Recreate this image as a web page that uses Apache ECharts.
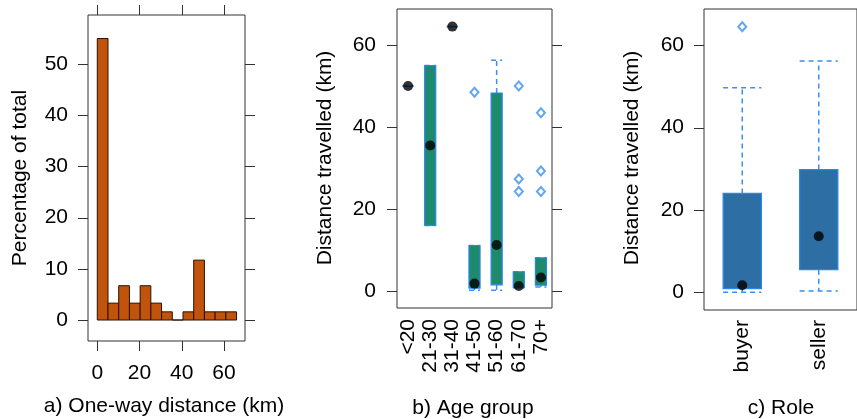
<!DOCTYPE html>
<html>
<head>
<meta charset="utf-8">
<script src="https://cdn.jsdelivr.net/npm/echarts@6/dist/echarts.min.js"></script>
<style>
  html, body { margin: 0; padding: 0; background: #fff; }
  #chart { width: 857px; height: 419px; }
</style>
</head>
<body>
<div id="chart"></div>
<script>
// a) histogram of one-way distance
const binEdges = [0, 5.08, 10.15, 15.23, 20.31, 25.38, 30.46, 35.54, 40.62, 45.69, 50.77, 55.85, 60.92, 66];
const histPercent = [55, 3.3, 6.7, 3.3, 6.7, 3.3, 1.6, 0, 1.6, 11.7, 1.6, 1.6, 1.6];
const histTicksX = [0, 20, 40, 60];
const histTicksY = [0, 10, 20, 30, 40, 50];

// b) distance by age group: [lower, q1, median, q3, upper]
const ageGroups = ['<20', '21-30', '31-40', '41-50', '51-60', '61-70', '70+'];
const ageLower = [50, 16, 64.5, 0.2, 0.2, 0.8, 1.0];
const ageQ1 = [50, 16, 64.5, 0.7, 1.5, 0.8, 1.4];
const ageMedian = [50, 35.5, 64.5, 1.8, 11.2, 1.2, 3.3];
const ageQ3 = [50, 55, 64.5, 11.1, 48.3, 4.7, 8.1];
const ageUpper = [50, 55, 64.5, 11.1, 56.3, 4.7, 8.1];
const ageOutliers = [[3, 48.5], [5, 50], [5, 27.3], [5, 24.3], [6, 43.5], [6, 29.3], [6, 24.3]];

// c) distance by role
const roles = ['buyer', 'seller'];
const roleLower = [0, 0.3];
const roleQ1 = [0.9, 5.5];
const roleMedian = [1.7, 13.6];
const roleQ3 = [24, 29.8];
const roleUpper = [49.7, 56.2];
const roleOutliers = [[0, 64.5]];

const distTicks = [0, 20, 40, 60];

const FONT = '"Liberation Sans", Arial, sans-serif';
const LABEL_FONT = '21px ' + FONT;
const WHISK = '#3a8ff0';
const TICK_LEN = 10;

const histData = histPercent.map((p, i) => [binEdges[i], binEdges[i + 1], p]);
const boxRows = (lo, q1, md, q3, hi) => lo.map((v, i) => [i, v, q1[i], md[i], q3[i], hi[i]]);

function renderHist(params, api) {
  const p0 = api.coord([api.value(0), api.value(2)]);
  const p1 = api.coord([api.value(1), 0]);
  return {
    type: 'rect',
    shape: { x: p0[0], y: p0[1], width: p1[0] - p0[0], height: p1[1] - p0[1] },
    style: { fill: '#c2530c', stroke: '#2a1200', lineWidth: 1 }
  };
}

function boxRenderer(fill) {
  return function (params, api) {
    const c = api.value(0);
    const lo = api.coord([c, api.value(1)]);
    const q1 = api.coord([c, api.value(2)]);
    const q3 = api.coord([c, api.value(4)]);
    const hi = api.coord([c, api.value(5)]);
    const w = api.size([1, 0])[0] * 0.5;
    const x = lo[0];
    const dash = { stroke: WHISK, lineWidth: 1.5, lineDash: [5, 4], fill: null };
    return {
      type: 'group',
      children: [
        { type: 'line', shape: { x1: x, y1: q1[1], x2: x, y2: lo[1] }, style: dash },
        { type: 'line', shape: { x1: x - w / 2, y1: lo[1], x2: x + w / 2, y2: lo[1] }, style: dash },
        { type: 'line', shape: { x1: x, y1: q3[1], x2: x, y2: hi[1] }, style: dash },
        { type: 'line', shape: { x1: x - w / 2, y1: hi[1], x2: x + w / 2, y2: hi[1] }, style: dash },
        {
          type: 'rect',
          shape: { x: x - w / 2, y: q3[1], width: w, height: q1[1] - q3[1] },
          style: { fill: fill, stroke: '#2a86ea', lineWidth: 1.2 }
        }
      ]
    };
  };
}

// panel frame, taken from the grid's coordinate system
function frameSeries(xi, yi) {
  return {
    type: 'custom', xAxisIndex: xi, yAxisIndex: yi, clip: false, silent: true, z: 90,
    data: [[0, 0]],
    renderItem: function (params) {
      const cs = params.coordSys;
      return { type: 'rect', shape: { x: cs.x, y: cs.y, width: cs.width, height: cs.height },
        style: { fill: null, stroke: '#333', lineWidth: 1 } };
    }
  };
}

// outward tick marks of one panel, placed through the axis scales;
// each item draws the mark on every requested side, on its own canvas layer
function tickSeries(xi, yi, horiz, values, sides) {
  return {
    type: 'custom', xAxisIndex: xi, yAxisIndex: yi, clip: false, silent: true,
    zlevel: 3, z: 100,
    data: values.map(v => horiz ? [v, 0] : [0, v]),
    renderItem: function (params, api) {
      const cs = params.coordSys;
      const p = api.coord([api.value(0), api.value(1)]);
      const px = Math.round(p[0]) + 0.5;
      const py = Math.round(p[1]) + 0.5;
      const style = { stroke: '#333', lineWidth: 1, fill: null };
      const children = sides.map(function (side) {
        let shape;
        if (side === 'left') shape = { x1: cs.x - TICK_LEN, y1: py, x2: cs.x, y2: py };
        else if (side === 'right') shape = { x1: cs.x + cs.width, y1: py, x2: cs.x + cs.width + TICK_LEN, y2: py };
        else if (side === 'bottom') shape = { x1: px, y1: cs.y + cs.height, x2: px, y2: cs.y + cs.height + TICK_LEN };
        else shape = { x1: px, y1: cs.y - TICK_LEN, x2: px, y2: cs.y };
        return { type: 'line', shape, style };
      });
      return { type: 'group', children };
    }
  };
}

// tick labels, also placed through the axis scale
function labelSeries(xi, yi, side, values, margin, names) {
  return {
    type: 'custom', xAxisIndex: xi, yAxisIndex: yi, clip: false, silent: true, z: 95,
    data: values.map((v, i) => side === 'left' ? [0, v] : [names ? i : v, 0]),
    renderItem: function (params, api) {
      const cs = params.coordSys;
      const p = api.coord([api.value(0), api.value(1)]);
      const text = names ? names[params.dataIndex] : String(values[params.dataIndex]);
      if (side === 'left') {
        return { type: 'text', x: cs.x - margin, y: p[1],
          style: { text, font: LABEL_FONT, fill: '#000', align: 'right', verticalAlign: 'middle' } };
      }
      if (names) {
        return { type: 'text', x: p[0], y: cs.y + cs.height + margin, rotation: Math.PI / 2,
          style: { text, font: LABEL_FONT, fill: '#000', align: 'right', verticalAlign: 'middle' } };
      }
      return { type: 'text', x: p[0], y: cs.y + cs.height + margin,
        style: { text, font: LABEL_FONT, fill: '#000', align: 'center', verticalAlign: 'top' } };
    }
  };
}

// axes only provide the scales; everything visible is drawn by the series
function valueAxis(gridIndex, min, max) {
  return { type: 'value', show: false, gridIndex, min, max, splitLine: { show: false } };
}
function categoryAxis(gridIndex, data) {
  return { type: 'category', show: false, gridIndex, data };
}

const chart = echarts.init(document.getElementById('chart'), null, { renderer: 'canvas' });

chart.setOption({
  animation: false,
  backgroundColor: '#fff',
  grid: [
    { left: 88, top: 15, width: 157, height: 326, show: false },
    { left: 397, top: 9, width: 155, height: 299, show: false },
    { left: 704, top: 9, width: 156, height: 301, show: false }
  ],
  xAxis: [
    valueAxis(0, -4.4, 70),
    categoryAxis(1, ageGroups),
    categoryAxis(2, roles)
  ],
  yAxis: [
    valueAxis(0, -4.1, 59.6),
    valueAxis(1, -4.15, 68.8),
    valueAxis(2, -4.3, 68.8)
  ],
  series: [
    {
      type: 'custom', xAxisIndex: 0, yAxisIndex: 0,
      renderItem: renderHist, data: histData,
      encode: { x: [0, 1], y: 2 }
    },
    frameSeries(0, 0),
    tickSeries(0, 0, false, histTicksY, ['right', 'left']),
    tickSeries(0, 0, true, histTicksX, ['top', 'bottom']),
    labelSeries(0, 0, 'left', histTicksY, 20),
    labelSeries(0, 0, 'bottom', histTicksX, 22),
    {
      type: 'custom', xAxisIndex: 1, yAxisIndex: 1,
      renderItem: boxRenderer('#1e8a6c'),
      data: boxRows(ageLower, ageQ1, ageMedian, ageQ3, ageUpper),
      encode: { x: 0, y: [1, 2, 3, 4, 5] }
    },
    {
      type: 'scatter', xAxisIndex: 1, yAxisIndex: 1, z: 5, clip: false,
      symbol: 'circle', symbolSize: 10, itemStyle: { color: '#000' },
      data: ageMedian.map((v, i) => [i, v])
    },
    {
      type: 'scatter', xAxisIndex: 1, yAxisIndex: 1, z: 5, clip: false,
      symbol: 'emptyDiamond', symbolSize: [8, 9],
      itemStyle: { color: WHISK, borderColor: WHISK, borderWidth: 1.3 },
      data: ageOutliers
    },
    frameSeries(1, 1),
    tickSeries(1, 1, false, distTicks, ['right', 'left']),
    labelSeries(1, 1, 'left', distTicks, 21),
    labelSeries(1, 1, 'bottom', ageGroups, 11, ageGroups),
    {
      type: 'custom', xAxisIndex: 2, yAxisIndex: 2,
      renderItem: boxRenderer('#2d6fa5'),
      data: boxRows(roleLower, roleQ1, roleMedian, roleQ3, roleUpper),
      encode: { x: 0, y: [1, 2, 3, 4, 5] }
    },
    {
      type: 'scatter', xAxisIndex: 2, yAxisIndex: 2, z: 5, clip: false,
      symbol: 'circle', symbolSize: 10, itemStyle: { color: '#000' },
      data: roleMedian.map((v, i) => [i, v])
    },
    {
      type: 'scatter', xAxisIndex: 2, yAxisIndex: 2, z: 5, clip: false,
      symbol: 'emptyDiamond', symbolSize: [8, 9],
      itemStyle: { color: WHISK, borderColor: WHISK, borderWidth: 1.3 },
      data: roleOutliers
    },
    frameSeries(2, 2),
    tickSeries(2, 2, false, distTicks, ['right', 'left']),
    labelSeries(2, 2, 'left', distTicks, 20),
    labelSeries(2, 2, 'bottom', roles, 10, roles)
  ],
  graphic: [
    { type: 'text', x: 20, y: 178, rotation: Math.PI / 2,
      style: { text: 'Percentage of total', font: LABEL_FONT, fill: '#000', align: 'center', verticalAlign: 'middle' } },
    { type: 'text', x: 325, y: 158, rotation: Math.PI / 2,
      style: { text: 'Distance travelled (km)', font: LABEL_FONT, fill: '#000', align: 'center', verticalAlign: 'middle' } },
    { type: 'text', x: 632, y: 158, rotation: Math.PI / 2,
      style: { text: 'Distance travelled (km)', font: LABEL_FONT, fill: '#000', align: 'center', verticalAlign: 'middle' } },
    { type: 'text', x: 164, y: 406,
      style: { text: 'a) One-way distance (km)', font: LABEL_FONT, fill: '#000', align: 'center', verticalAlign: 'middle' } },
    { type: 'text', x: 473, y: 408,
      style: { text: 'b) Age group', font: LABEL_FONT, fill: '#000', align: 'center', verticalAlign: 'middle' } },
    { type: 'text', x: 781, y: 408,
      style: { text: 'c) Role', font: LABEL_FONT, fill: '#000', align: 'center', verticalAlign: 'middle' } }
  ]
});
</script>
</body>
</html>
